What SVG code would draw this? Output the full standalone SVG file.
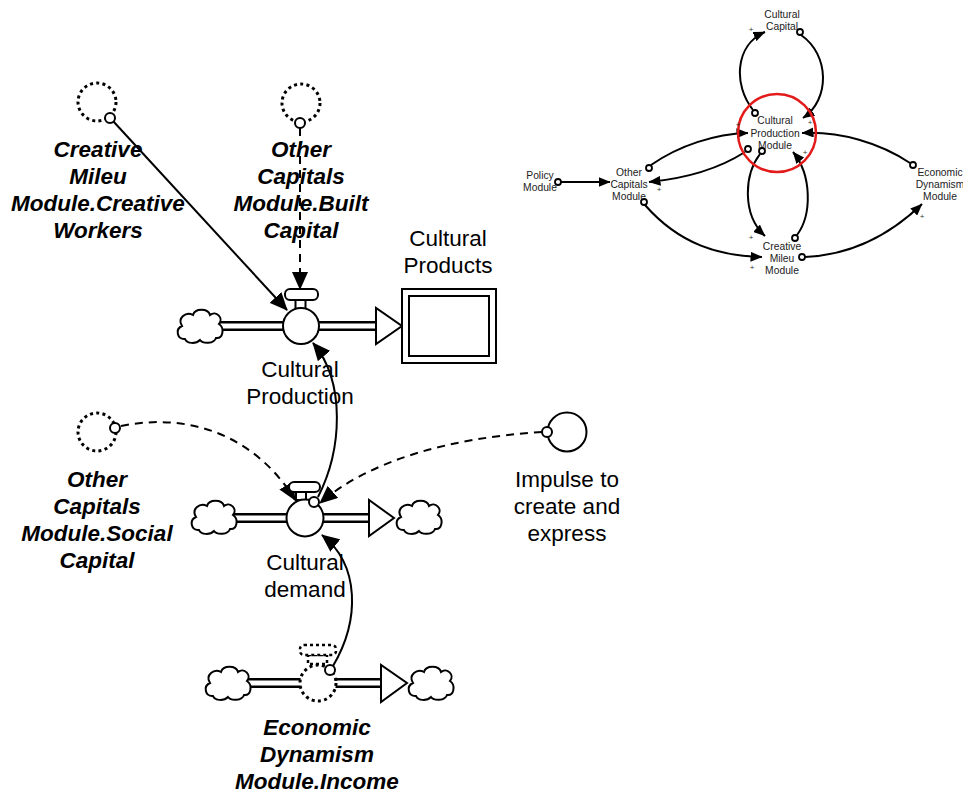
<svg xmlns="http://www.w3.org/2000/svg" width="963" height="794" viewBox="0 0 963 794">
<style>
text{font-family:"Liberation Sans",Arial,sans-serif;text-anchor:middle;fill:#000}
.bi{font-size:22.5px;font-weight:bold;font-style:italic}
.lb{font-size:22.5px}
.mi{font-size:10.3px;fill:#222}
.pl{font-size:8px;fill:#333}
.ln{fill:none;stroke:#000;stroke-width:2}
.dash{fill:none;stroke:#000;stroke-width:2;stroke-dasharray:8 6}
.mln{fill:none;stroke:#000;stroke-width:2}
.dot{fill:#fff;stroke:#000;stroke-width:3;stroke-dasharray:3 3.3}
.sc{fill:#fff;stroke:#000;stroke-width:1.8}
.ol{fill:#fff;stroke:#000;stroke-width:2}
.pipeo{stroke:#000;stroke-width:10;fill:none}
.pipei{stroke:#fff;stroke-width:5;fill:none}
.cl{fill:#fff;stroke:#000;stroke-width:2}
</style>
<defs>
<marker id="ah" viewBox="0 0 18 16" markerWidth="18" markerHeight="16" refX="17" refY="8" orient="auto" markerUnits="userSpaceOnUse"><path d="M0,0 L18,8 L0,16 z" fill="#000"/></marker>
<marker id="ahs" viewBox="0 0 12 10" markerWidth="12" markerHeight="10" refX="11.5" refY="5" orient="auto" markerUnits="userSpaceOnUse"><path d="M0,0 L12,5 L0,10 z" fill="#000"/></marker>
<path id="cloud" d="M -15,13 C -23,14 -25,3 -18,0 C -23,-8 -14,-15 -7,-11 C -5,-18 8,-18 10,-11 C 16,-16 24,-8 19,-2 C 25,2 23,13 16,12 C 14,18 3,18 0,14 C -4,18 -13,18 -15,13 Z"/>
</defs>

<!-- connectors -->
<g id="connectors">
<line class="ln" x1="113" y1="121" x2="287" y2="310" marker-end="url(#ah)"/>
<line class="dash" x1="300" y1="128" x2="300" y2="289" marker-end="url(#ah)"/>
<path class="ln" d="M 318 497 C 342 450, 346 382, 313 343" marker-end="url(#ah)"/>
<path class="dash" d="M 121 426 C 200 410, 262 445, 295 500" marker-end="url(#ah)"/>
<path class="dash" d="M 542 432 C 450 438, 370 460, 320 503" marker-end="url(#ah)"/>
<path class="ln" d="M 333 666 C 360 620, 360 565, 322 535" marker-end="url(#ah)"/>
<!-- mini diagram -->
<path class="mln" d="M 753 110 C 733 85, 735 45, 765 32" marker-end="url(#ahs)"/>
<path class="mln" d="M 801 35 C 830 55, 830 100, 803 118" marker-end="url(#ahs)"/>
<path class="mln" d="M 651 165 C 680 145, 715 134, 748 133" marker-end="url(#ahs)"/>
<path class="mln" d="M 910 163 C 880 143, 840 131, 802 133" marker-end="url(#ahs)"/>
<path class="mln" d="M 745 152 C 720 168, 690 178, 649 182" marker-end="url(#ahs)"/>
<path class="mln" d="M 561 182 L 610 182" marker-end="url(#ahs)"/>
<path class="mln" d="M 645 205 C 680 245, 720 256, 762 257" marker-end="url(#ahs)"/>
<path class="mln" d="M 760 154 C 744 175, 742 215, 765 236" marker-end="url(#ahs)"/>
<path class="mln" d="M 797 235 C 812 215, 812 175, 793 152" marker-end="url(#ahs)"/>
<path class="mln" d="M 805 257 C 850 255, 890 235, 922 204" marker-end="url(#ahs)"/>
</g>

<!-- Creative Mileu shadow variable -->
<g id="creative-workers">
<circle class="dot" cx="97" cy="102" r="19"/>
<circle class="ol" cx="110" cy="118" r="5"/>
<text class="bi" x="98" y="157">Creative</text>
<text class="bi" x="98" y="184">Mileu</text>
<text class="bi" x="98" y="211">Module.Creative</text>
<text class="bi" x="98" y="238">Workers</text>
</g>

<g id="built-capital">
<circle class="dot" cx="301" cy="103" r="19"/>
<circle class="ol" cx="300" cy="123" r="5"/>
<text class="bi" x="301" y="157">Other</text>
<text class="bi" x="301" y="184">Capitals</text>
<text class="bi" x="301" y="211">Module.Built</text>
<text class="bi" x="301" y="238">Capital</text>
</g>

<!-- Cultural Production flow -->
<g id="cultural-production">
<path class="pipeo" d="M 218 326 L 377 326"/>
<path class="pipei" d="M 218 326 L 378 326"/>
<use href="#cloud" class="cl" transform="translate(200,326)"/>
<polygon class="ol" points="376,308 376,344 402,326"/>
<rect class="ol" x="295.5" y="299" width="10" height="10"/>
<rect class="ol" x="285" y="289" width="33" height="11" rx="5"/>
<circle class="ol" cx="301" cy="326" r="18"/>
<text class="lb" x="300" y="377">Cultural</text>
<text class="lb" x="300" y="404">Production</text>
</g>

<g id="cultural-products">
<rect x="402" y="289" width="94" height="74" fill="#fff" stroke="#000" stroke-width="2"/>
<rect x="409" y="296" width="80" height="60" fill="none" stroke="#000" stroke-width="2"/>
<text class="lb" x="448" y="246">Cultural</text>
<text class="lb" x="448" y="273">Products</text>
</g>

<g id="social-capital">
<circle class="dot" cx="97" cy="432" r="19"/>
<circle class="ol" cx="115" cy="428" r="5"/>
<text class="bi" x="97" y="487">Other</text>
<text class="bi" x="97" y="514">Capitals</text>
<text class="bi" x="97" y="541">Module.Social</text>
<text class="bi" x="97" y="568">Capital</text>
</g>

<g id="impulse">
<circle class="ol" cx="567" cy="432" r="19.5"/>
<circle class="ol" cx="547" cy="432" r="5"/>
<text class="lb" x="567" y="487">Impulse to</text>
<text class="lb" x="567" y="514">create and</text>
<text class="lb" x="567" y="541">express</text>
</g>

<!-- Cultural demand flow -->
<g id="cultural-demand">
<path class="pipeo" d="M 232 518 L 370 518"/>
<path class="pipei" d="M 232 518 L 371 518"/>
<use href="#cloud" class="cl" transform="translate(214,517)"/>
<use href="#cloud" class="cl" transform="translate(419,517)"/>
<polygon class="ol" points="369,500 369,536 394,518"/>
<rect class="ol" x="296" y="490" width="10" height="10"/>
<rect class="ol" x="289" y="482" width="31" height="10" rx="5"/>
<circle class="ol" cx="305" cy="518" r="18.5"/>
<circle class="ol" cx="314" cy="502" r="5"/>
<text class="lb" x="305" y="570">Cultural</text>
<text class="lb" x="305" y="597">demand</text>
</g>

<!-- Income flow (shadow) -->
<g id="income">
<path class="pipeo" d="M 246 683 L 382 683"/>
<path class="pipei" d="M 246 683 L 383 683"/>
<use href="#cloud" class="cl" transform="translate(228,683)"/>
<use href="#cloud" class="cl" transform="translate(431,683)"/>
<polygon class="ol" points="381,665 381,702 407,683"/>
<rect x="308" y="655" width="19" height="9" fill="#fff" stroke="#000" stroke-width="2.5" stroke-dasharray="3 3"/>
<rect x="300" y="645" width="36" height="10" rx="4" fill="#fff" stroke="#000" stroke-width="2.5" stroke-dasharray="3 3"/>
<circle class="dot" cx="318" cy="683" r="18"/>
<circle class="ol" cx="330" cy="670" r="5"/>
<text class="bi" x="317" y="735">Economic</text>
<text class="bi" x="317" y="762">Dynamism</text>
<text class="bi" x="317" y="789">Module.Income</text>
</g>

<!-- mini module diagram -->
<g id="mini-cultural-capital">
<text class="mi" x="782" y="17.5">Cultural</text>
<text class="mi" x="782" y="30">Capital</text>
<circle class="sc" cx="800" cy="32" r="3"/>
</g>
<g id="mini-cultural-production">
<text class="mi" x="775" y="124">Cultural</text>
<text class="mi" x="775" y="136.5">Production</text>
<text class="mi" x="775" y="149">Module</text>
<circle class="sc" cx="755" cy="113" r="3"/>
<circle class="sc" cx="748" cy="149" r="3"/>
<circle class="sc" cx="762" cy="151" r="3"/>
<circle cx="777" cy="133" r="39" fill="none" stroke="#e31b1b" stroke-width="2.5"/>
</g>
<g id="mini-policy">
<text class="mi" x="540" y="178.5">Policy</text>
<text class="mi" x="540" y="191">Module</text>
<circle class="sc" cx="558" cy="182" r="3"/>
</g>
<g id="mini-other-capitals">
<text class="mi" x="629" y="175.5">Other</text>
<text class="mi" x="629" y="188">Capitals</text>
<text class="mi" x="629" y="200">Module</text>
<circle class="sc" cx="649" cy="168" r="3"/>
<circle class="sc" cx="644" cy="202" r="3"/>
</g>
<g id="mini-creative-mileu">
<text class="mi" x="782" y="249.5">Creative</text>
<text class="mi" x="782" y="261.5">Mileu</text>
<text class="mi" x="782" y="273.5">Module</text>
<circle class="sc" cx="795" cy="238" r="3"/>
<circle class="sc" cx="802" cy="257" r="3"/>
</g>
<g id="mini-economic">
<text class="mi" x="940" y="175.5">Economic</text>
<text class="mi" x="940" y="188">Dynamism</text>
<text class="mi" x="940" y="200">Module</text>
<circle class="sc" cx="913" cy="165" r="3"/>
</g>
<g id="mini-polarities">
<text class="pl" x="751" y="32">+</text>
<text class="pl" x="810" y="125">+</text>
<text class="pl" x="738" y="127">+</text>
<text class="pl" x="659" y="192">+</text>
<text class="pl" x="751" y="240">+</text>
<text class="pl" x="805" y="155">+</text>
<text class="pl" x="752" y="270">+</text>
<text class="pl" x="922" y="219">+</text>
</g>
</svg>
